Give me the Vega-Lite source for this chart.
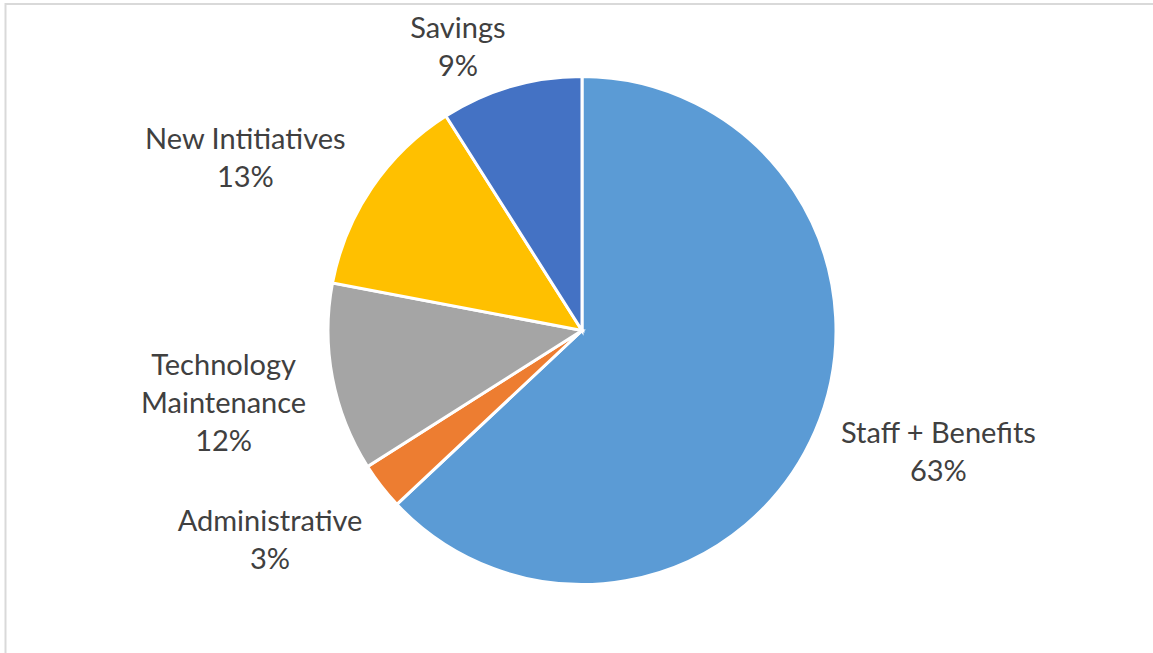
{
  "$schema": "https://vega.github.io/schema/vega-lite/v6.json",
  "width": 1153,
  "height": 653,
  "autosize": {"type": "none"},
  "padding": {"left": 5.5, "top": 4, "right": 0, "bottom": 0},
  "background": "#ffffff",
  "config": {"view": {"stroke": null}},
  "data": {
    "values": [
      {"rank": 1, "name": "Staff + Benefits", "value": 63, "label": "Staff + Benefits\n63%"},
      {"rank": 2, "name": "Administrative", "value": 3, "label": "Administrative\n3%"},
      {"rank": 3, "name": "Technology Maintenance", "value": 12, "label": "Technology\nMaintenance\n12%"},
      {"rank": 4, "name": "New Intitiatives", "value": 13, "label": "New Intitiatives\n13%"},
      {"rank": 5, "name": "Savings", "value": 9, "label": "Savings\n9%"}
    ]
  },
  "layer": [
    {
      "data": {"values": [{"frame": 1}]},
      "mark": {"type": "rect", "fill": null, "stroke": "#D9D9D9", "strokeWidth": 2},
      "encoding": {
        "x": {"value": 0},
        "x2": {"value": "width"},
        "y": {"value": 0},
        "y2": {"value": "height"}
      }
    },
    {
      "mark": {"type": "arc", "outerRadius": 254, "stroke": "#ffffff", "strokeWidth": 3},
      "encoding": {
        "theta": {"field": "value", "type": "quantitative", "stack": true},
        "order": {"field": "rank", "type": "quantitative"},
        "color": {
          "field": "name",
          "type": "nominal",
          "sort": null,
          "scale": {
            "domain": ["Staff + Benefits", "Administrative", "Technology Maintenance", "New Intitiatives", "Savings"],
            "range": ["#5B9BD5", "#ED7D31", "#A5A5A5", "#FFC000", "#4472C4"]
          },
          "legend": null
        }
      }
    },
    {
      "mark": {"type": "text", "radius": 372, "dx": 15, "dy": -44, "font": "Lato", "fontSize": 29, "lineHeight": 38, "lineBreak": "\n", "fill": "#404040", "align": "center", "baseline": "middle"},
      "encoding": {
        "theta": {"field": "value", "type": "quantitative", "stack": true},
        "order": {"field": "rank", "type": "quantitative"},
        "text": {"condition": {"test": "datum.name === 'Staff + Benefits'", "field": "label"}, "value": ""}
      }
    },
    {
      "mark": {"type": "text", "radius": 372, "dx": -18, "dy": -37, "font": "Lato", "fontSize": 29, "lineHeight": 38, "lineBreak": "\n", "fill": "#404040", "align": "center", "baseline": "middle"},
      "encoding": {
        "theta": {"field": "value", "type": "quantitative", "stack": true},
        "order": {"field": "rank", "type": "quantitative"},
        "text": {"condition": {"test": "datum.name === 'Administrative'", "field": "label"}, "value": ""}
      }
    },
    {
      "mark": {"type": "text", "radius": 372, "dx": 7, "dy": -34, "font": "Lato", "fontSize": 29, "lineHeight": 38, "lineBreak": "\n", "fill": "#404040", "align": "center", "baseline": "middle"},
      "encoding": {
        "theta": {"field": "value", "type": "quantitative", "stack": true},
        "order": {"field": "rank", "type": "quantitative"},
        "text": {"condition": {"test": "datum.name === 'Technology Maintenance'", "field": "label"}, "value": ""}
      }
    },
    {
      "mark": {"type": "text", "radius": 372, "dx": -29, "dy": 19, "font": "Lato", "fontSize": 29, "lineHeight": 38, "lineBreak": "\n", "fill": "#404040", "align": "center", "baseline": "middle"},
      "encoding": {
        "theta": {"field": "value", "type": "quantitative", "stack": true},
        "order": {"field": "rank", "type": "quantitative"},
        "text": {"condition": {"test": "datum.name === 'New Intitiatives'", "field": "label"}, "value": ""}
      }
    },
    {
      "mark": {"type": "text", "radius": 305, "dx": -39, "dy": -9, "font": "Lato", "fontSize": 29, "lineHeight": 38, "lineBreak": "\n", "fill": "#404040", "align": "center", "baseline": "middle"},
      "encoding": {
        "theta": {"field": "value", "type": "quantitative", "stack": true},
        "order": {"field": "rank", "type": "quantitative"},
        "text": {"condition": {"test": "datum.name === 'Savings'", "field": "label"}, "value": ""}
      }
    }
  ]
}
